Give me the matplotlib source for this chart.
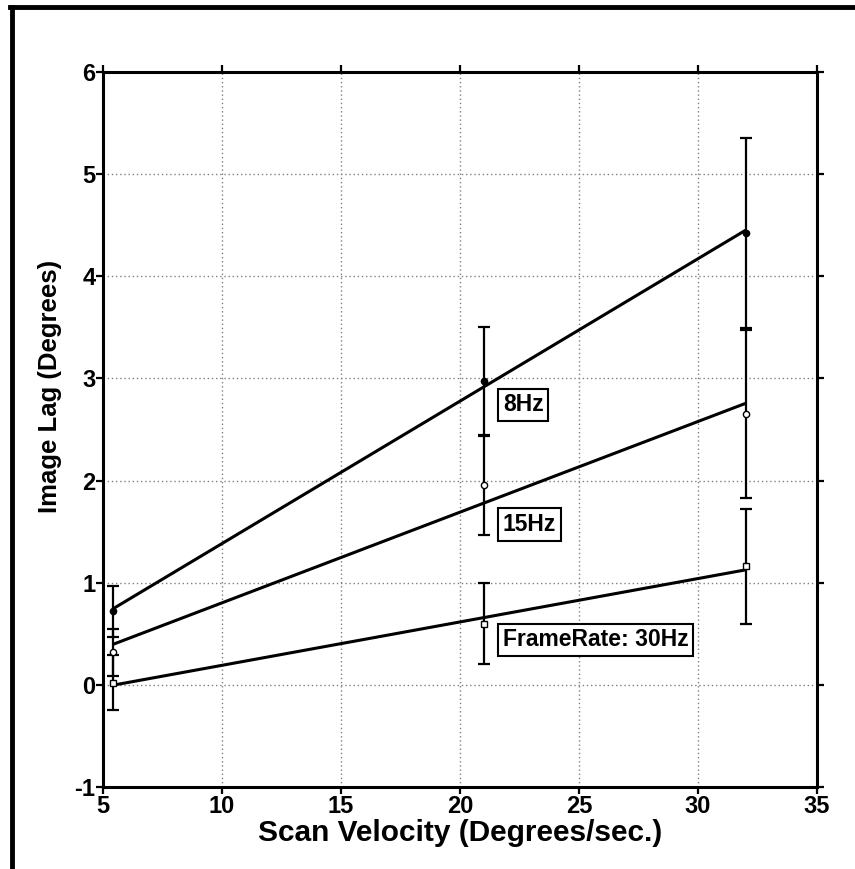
import matplotlib
matplotlib.use("Agg")
import matplotlib.pyplot as plt
from matplotlib.lines import Line2D
import numpy as np

plt.rcParams['font.family'] = ['Liberation Sans', 'DejaVu Sans']
plt.rcParams['font.weight'] = 'bold'

# Data
scan_velocity = [5.4, 21.0, 32.0]
lag_8hz = [0.72, 2.97, 4.42]
err_8hz = [0.25, 0.53, 0.93]
lag_15hz = [0.32, 1.96, 2.65]
err_15hz = [0.23, 0.49, 0.82]
lag_30hz = [0.02, 0.60, 1.16]
err_30hz = [0.27, 0.40, 0.56]
series_labels = ["8Hz", "15Hz", "FrameRate: 30Hz"]
x_ticks = [5, 10, 15, 20, 25, 30, 35]
y_ticks = [-1, 0, 1, 2, 3, 4, 5, 6]

fig = plt.figure(figsize=(8.55, 8.69), dpi=100)
ax = fig.add_axes([103/855, 1-787/869, (817-103)/855, (787-72)/869])

x = np.array(scan_velocity)
series = [
    (lag_8hz, err_8hz, dict(marker='o', markersize=4.5, markerfacecolor='black', markeredgecolor='black')),
    (lag_15hz, err_15hz, dict(marker='o', markersize=4.5, markerfacecolor='white', markeredgecolor='black')),
    (lag_30hz, err_30hz, dict(marker='s', markersize=5, markerfacecolor='white', markeredgecolor='black')),
]
for ys, es, mk in series:
    ys = np.array(ys)
    ax.errorbar(x, ys, yerr=es, fmt='none', ecolor='black', elinewidth=1.6,
                capsize=4.5, capthick=1.6, zorder=3)
    slope, icpt = np.polyfit(x, ys, 1)
    ax.plot([x[0], x[-1]], [icpt + slope * x[0], icpt + slope * x[-1]],
            color='black', lw=2.2, zorder=4, solid_capstyle='butt')
    ax.plot(x, ys, linestyle='none', zorder=5, markeredgewidth=1.0, **mk)

box = dict(boxstyle='square,pad=0.2', facecolor='white', edgecolor='black', linewidth=1.5)
label_pos = [(21.8, 2.74), (21.8, 1.57), (21.8, 0.44)]
for (lx, ly), txt in zip(label_pos, series_labels):
    ax.text(lx, ly, txt, fontsize=16.5, fontweight='bold', va='center', ha='left',
            bbox=box, zorder=6)

ax.set_xlim(5, 35)
ax.set_ylim(-1, 6)
ax.set_xticks(x_ticks)
ax.set_yticks(y_ticks)
ax.set_xticklabels([str(v) for v in x_ticks])
ax.set_yticklabels([str(v) for v in y_ticks])
ax.grid(True, linestyle=(0, (1, 2)), color='#808080', linewidth=1.0)
ax.set_axisbelow(True)

for sp in ax.spines.values():
    sp.set_linewidth(2.2)
    sp.set_color('black')

ax.tick_params(axis='both', which='both', direction='out', length=5, width=1.6,
               labelsize=17, pad=0.5)
ax.tick_params(top=True, right=True, labeltop=False, labelright=False)
for lab in ax.get_xticklabels() + ax.get_yticklabels():
    lab.set_fontweight('bold')

ax.set_xlabel("Scan Velocity (Degrees/sec.)", fontsize=21.5, fontweight='bold')
ax.set_ylabel("Image Lag (Degrees)", fontsize=18.5, fontweight='bold')
ax.xaxis.set_label_coords(0.5, -(847 - 787) / 715, transform=ax.transAxes)
ax.xaxis.label.set_va('bottom')
ax.yaxis.set_label_coords((62 - 103) / 714, (787 - 386) / 715)

# outer frame (left and top)
fig.add_artist(Line2D([12/855, 12/855], [0, 1-7/869], transform=fig.transFigure,
                      color='black', lw=3.5))
fig.add_artist(Line2D([10/855, 1], [1-7/869, 1-7/869], transform=fig.transFigure,
                      color='black', lw=3.5))

fig.savefig("out.png", dpi=100)
